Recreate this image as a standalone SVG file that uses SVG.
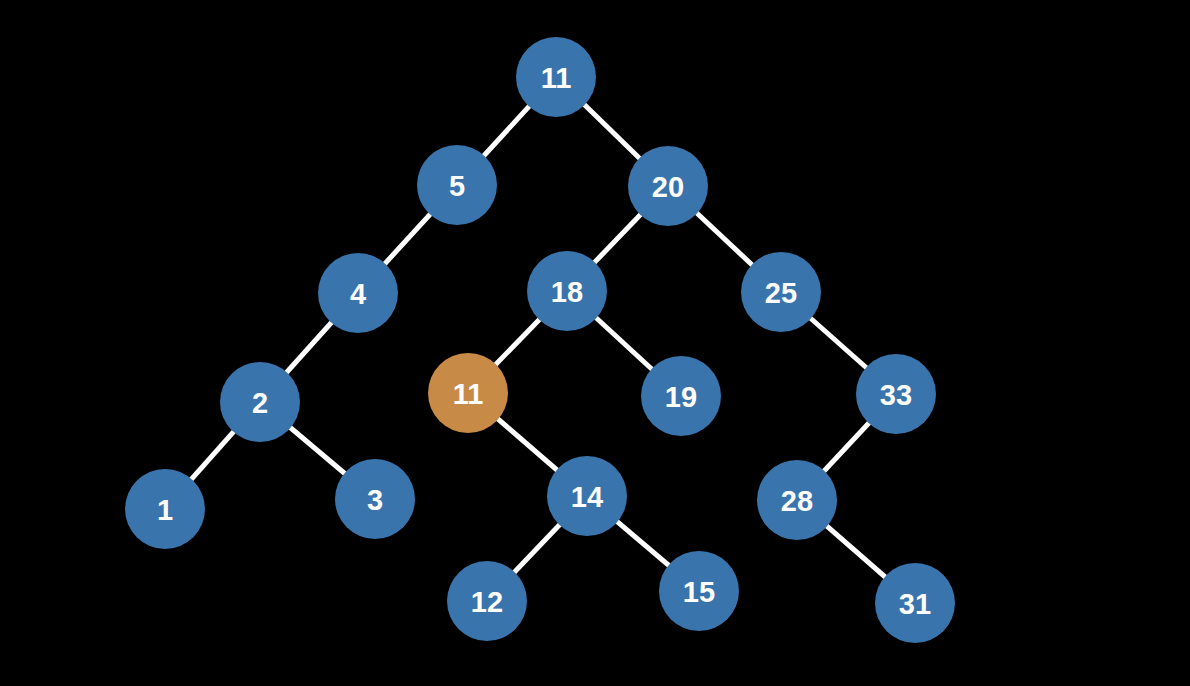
<svg xmlns="http://www.w3.org/2000/svg" width="1190" height="686" viewBox="0 0 1190 686">
<style>
.n circle{fill:#3a74ac;}
.n.hl circle{fill:#c88a47;}
.n text{fill:#fff;font-family:"Liberation Sans",Arial,sans-serif;font-weight:bold;font-size:29px;text-anchor:middle;dominant-baseline:central;}
#edges line{stroke:#fff;stroke-width:5;}
</style>
<rect width="1190" height="686" fill="#000"/>
<g id="edges">
<line x1="556" y1="77" x2="457" y2="185"/>
<line x1="556" y1="77" x2="668" y2="186"/>
<line x1="457" y1="185" x2="358" y2="293"/>
<line x1="668" y1="186" x2="567" y2="291"/>
<line x1="668" y1="186" x2="781" y2="292"/>
<line x1="358" y1="293" x2="260" y2="402"/>
<line x1="260" y1="402" x2="165" y2="509"/>
<line x1="260" y1="402" x2="375" y2="499"/>
<line x1="567" y1="291" x2="468" y2="393"/>
<line x1="567" y1="291" x2="681" y2="396"/>
<line x1="468" y1="393" x2="587" y2="496"/>
<line x1="587" y1="496" x2="487" y2="601"/>
<line x1="587" y1="496" x2="699" y2="591"/>
<line x1="781" y1="292" x2="896" y2="394"/>
<line x1="896" y1="394" x2="797" y2="500"/>
<line x1="797" y1="500" x2="915" y2="603"/>
</g>
<g id="n11a" class="n"><circle cx="556" cy="77" r="40"/><text x="556" y="78">11</text></g>
<g id="n5" class="n"><circle cx="457" cy="185" r="40"/><text x="457" y="186">5</text></g>
<g id="n20" class="n"><circle cx="668" cy="186" r="40"/><text x="668" y="187">20</text></g>
<g id="n4" class="n"><circle cx="358" cy="293" r="40"/><text x="358" y="294">4</text></g>
<g id="n18" class="n"><circle cx="567" cy="291" r="40"/><text x="567" y="292">18</text></g>
<g id="n25" class="n"><circle cx="781" cy="292" r="40"/><text x="781" y="293">25</text></g>
<g id="n2" class="n"><circle cx="260" cy="402" r="40"/><text x="260" y="403">2</text></g>
<g id="n11b" class="n hl"><circle cx="468" cy="393" r="40"/><text x="468" y="394">11</text></g>
<g id="n19" class="n"><circle cx="681" cy="396" r="40"/><text x="681" y="397">19</text></g>
<g id="n33" class="n"><circle cx="896" cy="394" r="40"/><text x="896" y="395">33</text></g>
<g id="n1" class="n"><circle cx="165" cy="509" r="40"/><text x="165" y="510">1</text></g>
<g id="n3" class="n"><circle cx="375" cy="499" r="40"/><text x="375" y="500">3</text></g>
<g id="n14" class="n"><circle cx="587" cy="496" r="40"/><text x="587" y="497">14</text></g>
<g id="n28" class="n"><circle cx="797" cy="500" r="40"/><text x="797" y="501">28</text></g>
<g id="n12" class="n"><circle cx="487" cy="601" r="40"/><text x="487" y="602">12</text></g>
<g id="n15" class="n"><circle cx="699" cy="591" r="40"/><text x="699" y="592">15</text></g>
<g id="n31" class="n"><circle cx="915" cy="603" r="40"/><text x="915" y="604">31</text></g>
</svg>
